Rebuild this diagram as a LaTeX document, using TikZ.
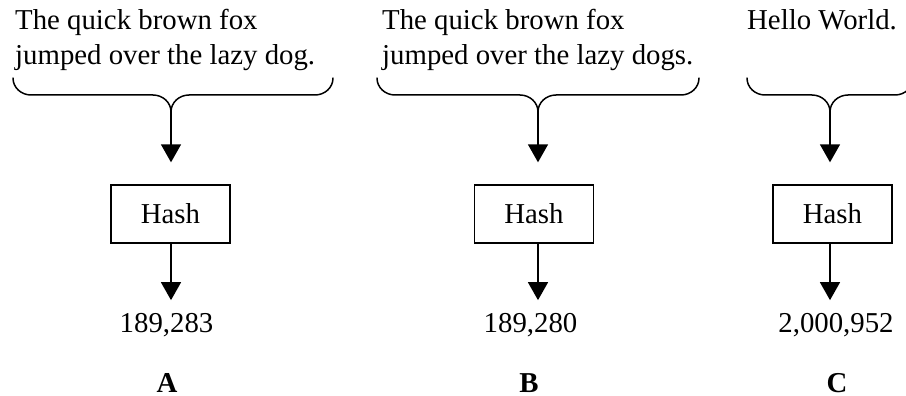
\documentclass[tikz,border=0pt]{standalone}
\usepackage{fontspec}
\setmainfont{Liberation Serif}
\usetikzlibrary{arrows.meta}

\tikzset{
  body/.style={font=\fontsize{28.8}{34.6}\selectfont, inner sep=0pt},
  textline/.style={body, anchor=base west},
  hashbox/.style={body, draw, line width=1.4pt, minimum width=119pt, minimum height=58pt},
  value/.style={body, anchor=base},
  tag/.style={body, anchor=base, font=\fontsize{28.8}{34.6}\selectfont\bfseries},
  bracestyle/.style={line width=1.5pt, line cap=round},
  flow/.style={line width=1.5pt, -{Triangle[width=20pt,length=18pt]}},
}

% curly brace opening downwards: left end, middle (cusp), right end
\newcommand\downbrace[4]{%
  \draw[bracestyle] (#1,78) to[out=-90,in=180] (#1+18,95) -- (#2-18,95)
    to[out=0,in=90] (#2,112) to[out=90,in=180] (#2+18,95) -- (#3-18,95)
    to[out=0,in=-90] (#3,78);
  \coordinate (#4) at (#2,112);
}

\begin{document}
\begin{tikzpicture}[x=1pt,y=-1pt]
  \useasboundingbox (0,0) rectangle (906,396);

  % ---- A ----
  \node[textline] (a1) at (15,30) {The quick brown fox};
  \node[textline] (a2) at (15,64.5) {jumped over the lazy dog.};
  \downbrace{13}{171}{333}{tipA}
  \node[hashbox] (ha) at (170.5,214) {Hash};
  \node[value] (va) at (166.5,332) {189,283};
  \node[tag] (la) at (167,392) {A};
  \draw[flow, shorten >=22pt] (tipA) -- (tipA |- ha.north);
  \draw[flow, shorten >=12.5pt] (ha.south -| tipA) -- (va.north -| tipA);

  % ---- B ----
  \node[textline] (b1) at (382,30) {The quick brown fox};
  \node[textline] (b2) at (382,64.5) {jumped over the lazy dogs.};
  \downbrace{377}{538}{699}{tipB}
  \node[hashbox] (hb) at (534,214) {Hash};
  \node[value] (vb) at (530.5,332) {189,280};
  \node[tag] (lb) at (529,392) {B};
  \draw[flow, shorten >=22pt] (tipB) -- (tipB |- hb.north);
  \draw[flow, shorten >=12.5pt] (hb.south -| tipB) -- (vb.north -| tipB);

  % ---- C ----
  \node[textline] (c1) at (747,30) {Hello World.};
  \downbrace{747}{830}{913}{tipC}
  \node[hashbox] (hc) at (832.5,214) {Hash};
  \node[value] (vc) at (836,332) {2,000,952};
  \node[tag] (lc) at (837,392) {C};
  \draw[flow, shorten >=22pt] (tipC) -- (tipC |- hc.north);
  \draw[flow, shorten >=12.5pt] (hc.south -| tipC) -- (vc.north -| tipC);
\end{tikzpicture}
\end{document}
